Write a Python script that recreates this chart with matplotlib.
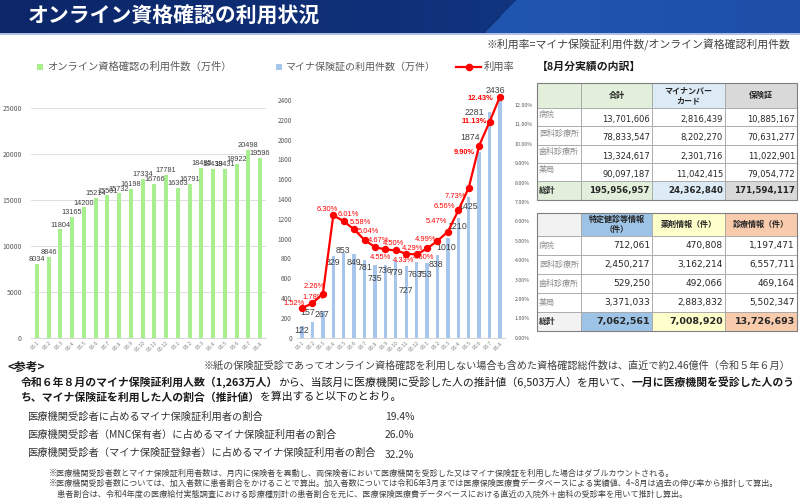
import numpy as np
import matplotlib
matplotlib.use('Agg')
import matplotlib.pyplot as plt
from matplotlib.patches import Rectangle
from matplotlib.ticker import FuncFormatter

plt.rcParams['font.family'] = ['Noto Sans CJK JP', 'DejaVu Sans']

# ---- data ----
months = ['R5.1', 'R5.2', 'R5.3', 'R5.4', 'R5.5', 'R5.6', 'R5.7', 'R5.8', 'R5.9', 'R5.10',
          'R5.11', 'R5.12', 'R6.1', 'R6.2', 'R6.3', 'R6.4', 'R6.5', 'R6.6', 'R6.7', 'R6.8']
online_counts = [8034, 8846, 11804, 13165, 14200, 15214, 15501, 15732, 16198, 17334,
                 16766, 17781, 16363, 16791, 18485, 18439, 18431, 18922, 20498, 19596]
myna_counts = [122, 157, 267, 829, 853, 849, 781, 735, 736, 779,
               727, 763, 753, 838, 1010, 1210, 1425, 1874, 2281, 2436]
usage_rate = [1.52, 1.78, 2.26, 6.30, 6.01, 5.58, 5.04, 4.67, 4.55, 4.50,
              4.33, 4.29, 4.60, 4.99, 5.47, 6.56, 7.73, 9.90, 11.13, 12.43]

t_rows = ['病院', '医科診療所', '歯科診療所', '薬局']
t1_cols = ['合計', 'マイナンバー\nカード', '保険証']
t1_total = [13701606, 78833547, 13324617, 90097187]
t1_card = [2816439, 8202270, 2301716, 11042415]
t1_hoken = [10885167, 70631277, 11022901, 79054772]
t1_sum = [195956957, 24362840, 171594117]

t2_cols = ['特定健診等情報\n（件）', '薬剤情報（件）', '診療情報（件）']
t2_kenshin = [712061, 2450217, 529250, 3371033]
t2_yakuzai = [470808, 3162214, 492066, 2883832]
t2_shinryo = [1197471, 6557711, 469164, 5502347]
t2_sum = [7062561, 7008920, 13726693]

ratio_labels = ['医療機関受診者に占めるマイナ保険証利用者の割合',
                '医療機関受診者（MNC保有者）に占めるマイナ保険証利用者の割合',
                '医療機関受診者（マイナ保険証登録者）に占めるマイナ保険証利用者の割合']
ratio_values = ['19.4%', '26.0%', '32.2%']

# label nudges in pixels (dx, dy), like the hand-moved labels on the slide
myna_lbl_off = [(0, -5), (-5, 10), (-1, -3), (0, -7), (-1, 3), (0, -9), (0, -7), (0, -14),
                (0, -6), (0, -12), (0, -25), (-2, -12), (-2, -11), (-2, -10), (-2, -10),
                (-1, -9), (-1, -10), (-9, 15), (-15, -1), (-5, 6)]
rate_lbl_off = [(-8, 5), (1, 6), (-9, 7), (-6, 6), (5, 7), (6, 7), (4, 8), (4, 7), (-5, -8),
                (-2, 6.5), (-3, -6.5), (-4, 5.5), (-4, -9), (-12, 1.5), (-11, 10), (-14, 4),
                (-13, -9), (-15, -7), (-15, 0), (-20, -2)]

GREEN = '#a8f08e'
BLUE = '#a6c6ec'
RED = '#ff0000'
GRAY_TXT = '#595959'
PX = 0.72  # points per pixel at dpi 100

fig = plt.figure(figsize=(8, 5), dpi=100)
ov = fig.add_axes([0, 0, 1, 1])
ov.set_xlim(0, 800)
ov.set_ylim(500, 0)
ov.axis('off')

# title banner
xx = np.linspace(0, 1, 800)[None, :]
yy = np.linspace(0, 1, 33)[:, None]
dark = np.array([12, 38, 104]) + (np.array([20, 60, 140]) - np.array([12, 38, 104])) * xx[..., None]
light = np.array([34, 92, 185]) + (np.array([30, 80, 170]) - np.array([34, 92, 185])) * xx[..., None]
edge = 485 + (1 - yy) * 30
mask = (np.arange(800)[None, :] > edge)[..., None]
img = np.where(mask, light, dark) / 255.0
ov.imshow(img, extent=(0, 800, 33, 0), aspect='auto', interpolation='bilinear', zorder=0)
ov.plot([0, 800], [33.8, 33.8], color='#9fb3dc', lw=1.2)
ov.text(28, 16, 'オンライン資格確認の利用状況', color='white', fontsize=15,
        fontweight='bold', va='center')
ov.text(790, 45, '※利用率=マイナ保険証利用件数/オンライン資格確認利用件数',
        ha='right', va='center', fontsize=7.8, color='#404040')

# legends
ov.add_patch(Rectangle((37, 64), 6, 6, color=GREEN, lw=0))
ov.text(47, 67, 'オンライン資格確認の利用件数（万件）', va='center', fontsize=7.4, color=GRAY_TXT)
ov.add_patch(Rectangle((276, 64), 6, 6, color=BLUE, lw=0))
ov.text(286, 67, 'マイナ保険証の利用件数（万件）', va='center', fontsize=7.2, color=GRAY_TXT)
ov.plot([456, 481], [67, 67], color=RED, lw=1.6)
ov.plot([468.5], [67], 'o', color=RED, ms=4.5)
ov.text(484, 67, '利用率', va='center', fontsize=7.4, color=GRAY_TXT)

x = np.arange(len(months))

# left chart: online confirmations
ax1 = fig.add_axes([31 / 800, 1 - 337.7 / 500, 235 / 800, (337.7 - 108.3) / 500])
ax1.bar(x, online_counts, width=0.36, color=GREEN, zorder=2)
ax1.set_xlim(-0.5, len(months) - 0.5)
ax1.set_ylim(0, 25000)
ax1.set_yticks(range(0, 25001, 5000))
ax1.yaxis.grid(True, color='#d9d9d9', lw=0.6, zorder=0)
ax1.set_axisbelow(True)
for s in ['top', 'right', 'left']:
    ax1.spines[s].set_visible(False)
ax1.spines['bottom'].set_color('#d9d9d9')
ax1.tick_params(axis='y', length=0, labelsize=5, labelcolor=GRAY_TXT, pad=6.5)
ax1.set_xticks(x)
ax1.set_xticklabels(months, rotation=45, ha='right', rotation_mode='anchor',
                    fontsize=3.6, color='#7f7f7f')
ax1.tick_params(axis='x', length=0, pad=2)
for i, v in enumerate(online_counts):
    ax1.annotate(str(v), (i, v), xytext=(0, 3), textcoords='offset points',
                 ha='center', va='center', fontsize=5.3, color='#404040',
                 family=['Liberation Sans', 'DejaVu Sans'])

# middle chart: My Number insurance card usage + rate
ax2 = fig.add_axes([296.8 / 800, 1 - 337.7 / 500, 208.4 / 800, 247.7 / 500])
ax2.bar(x, myna_counts, width=0.32, color=BLUE, zorder=2)
ax2.set_xlim(-0.5, len(months) - 0.5)
ax2.set_ylim(0, 2500)
ax2.set_yticks(range(0, 2401, 200))
for s in ['top', 'right', 'left']:
    ax2.spines[s].set_visible(False)
ax2.spines['bottom'].set_color('#d9d9d9')
ax2.tick_params(axis='y', length=0, labelsize=4.6, labelcolor=GRAY_TXT, pad=3.5)
ax2.set_xticks(x)
ax2.set_xticklabels(months, rotation=45, ha='right', rotation_mode='anchor',
                    fontsize=3.6, color='#7f7f7f')
ax2.tick_params(axis='x', length=0, pad=2)
for i, v in enumerate(myna_counts):
    dx, dy = myna_lbl_off[i]
    ax2.annotate(str(v), (i, v), xytext=(dx * PX, dy * PX), textcoords='offset points',
                 ha='center', va='center', fontsize=6.3, color='#404040',
                 family=['Liberation Sans', 'DejaVu Sans'], zorder=3)

ax3 = ax2.twinx()
rates = np.array(usage_rate) / 100
ax3.plot(x, rates, color=RED, lw=1.6, marker='o', ms=4.3, zorder=4)
ax3.set_ylim(0, 0.1277)
ax3.set_yticks(np.arange(0, 0.1201, 0.01))
ax3.yaxis.set_major_formatter(FuncFormatter(lambda v, p: f'{v * 100:.2f}%'))
for s in ['top', 'right', 'left', 'bottom']:
    ax3.spines[s].set_visible(False)
ax3.tick_params(axis='y', length=0, labelsize=3.8, labelcolor=GRAY_TXT, pad=7)
for i, v in enumerate(rates):
    dx, dy = rate_lbl_off[i]
    ax3.annotate(f'{usage_rate[i]:.2f}%', (i, v), xytext=(dx * PX, dy * PX),
                 textcoords='offset points', ha='center', va='center', fontsize=5.4,
                 color=RED, family=['Liberation Sans', 'DejaVu Sans'],
                 fontweight='bold' if i >= 17 else 'normal')


# tables
def fmt(n):
    return f'{n:,}'


def draw_table(x_edges, y_top, head_h, row_h, heads, head_fills, cols, sums, sum_fills,
               num_fs, sum_fs, num_va_shift):
    border = '#a6a6a6'
    y = y_top
    for j in range(4):
        ov.add_patch(Rectangle((x_edges[j], y), x_edges[j + 1] - x_edges[j], head_h,
                               facecolor=head_fills[j], edgecolor=border, lw=0.6))
        if j > 0:
            ov.text((x_edges[j] + x_edges[j + 1]) / 2, y + head_h / 2, heads[j - 1],
                    ha='center', va='center', fontsize=5.8, fontweight='bold',
                    color='#262626', linespacing=1.1)
    y += head_h
    for r, name in enumerate(t_rows):
        for j in range(4):
            ov.add_patch(Rectangle((x_edges[j], y), x_edges[j + 1] - x_edges[j], row_h,
                                   facecolor='white', edgecolor=border, lw=0.6))
        ov.text(x_edges[0] + 2, y + row_h / 2 - num_va_shift, name, ha='left', va='center',
                fontsize=5.8, color='#8c8c8c')
        for j in range(3):
            ov.text(x_edges[j + 2] - 2, y + row_h / 2 + num_va_shift, fmt(cols[j][r]),
                    ha='right', va='center', fontsize=num_fs, color='#262626',
                    family=['DejaVu Sans'])
        y += row_h
    for j in range(4):
        ov.add_patch(Rectangle((x_edges[j], y), x_edges[j + 1] - x_edges[j], row_h,
                               facecolor=sum_fills[j], edgecolor=border, lw=0.6))
    ov.text(x_edges[0] + 2, y + row_h / 2, '総計', ha='left', va='center',
            fontsize=6, fontweight='bold', color='#262626')
    for j in range(3):
        ov.text(x_edges[j + 2] - 2, y + row_h / 2, fmt(sums[j]), ha='right', va='center',
                fontsize=sum_fs, fontweight='bold', color='#262626', family=['DejaVu Sans'])
    y += row_h
    ov.add_patch(Rectangle((x_edges[0], y_top), x_edges[-1] - x_edges[0], y - y_top,
                           facecolor='none', edgecolor='#7f7f7f', lw=0.8))


ov.text(537, 67, '【8月分実績の内訳】', ha='left', va='center', fontsize=7.8,
        fontweight='bold', color='#1a1a1a')
xe = [537, 581, 652, 725, 797]
draw_table(xe, 83, 25, 18.3, t1_cols, ['#e2efda', '#e2efda', '#ddebf7', '#d9d9d9'],
           [t1_total, t1_card, t1_hoken], t1_sum,
           ['#e2efda', '#e2efda', '#ddebf7', '#d9d9d9'], 6.0, 6.2, 2.5)
draw_table(xe, 213, 23, 19, t2_cols, ['#f2f2f2', '#9dc3e6', '#ffffcc', '#f8cbad'],
           [t2_kenshin, t2_yakuzai, t2_shinryo], t2_sum,
           ['#f2f2f2', '#9dc3e6', '#ffffcc', '#f8cbad'], 6.5, 6.8, 0)


# bottom notes
def rich_line(x0, y0, parts, fs, color='#1a1a1a'):
    prev = ov.text(x0, y0, parts[0][0], fontsize=fs, va='center', ha='left', color=color,
                   fontweight='bold' if parts[0][1] else 'normal')
    for s, b in parts[1:]:
        prev = ov.annotate(s, xy=(1, 0.5), xycoords=prev, va='center', ha='left',
                           fontsize=fs, color=color, fontweight='bold' if b else 'normal')


ov.text(7, 367, '<参考>', fontsize=8.5, fontweight='bold', va='center', color='#1a1a1a')
ov.text(204, 366, '※紙の保険証受診であってオンライン資格確認を利用しない場合も含めた資格確認総件数は、'
        '直近で約2.46億件（令和５年６月）', fontsize=7.3, va='center', color='#404040')
rich_line(21, 382, [('令和６年８月のマイナ保険証利用人数（1,263万人）', True),
                    ('から、当該月に医療機関に受診した人の推計値（6,503万人）を用いて、', False),
                    ('一月に医療機関を受診した人のう', True)], 7.8)
rich_line(21, 397, [('ち、マイナ保険証を利用した人の割合（推計値）', True),
                    ('を算出すると以下のとおり。', False)], 7.8)
for k, (lab, val) in enumerate(zip(ratio_labels, ratio_values)):
    yk = 417 + k * 18
    ov.text(27, yk, lab, fontsize=7.4, va='center', color='#333333')
    ov.text(385, yk + (2 if k == 2 else 0), val, fontsize=7.4, va='center', color='#333333')

foot = ['※医療機関受診者数とマイナ保険証利用者数は、月内に保険者を異動し、両保険者において医療機関を受診した又は'
        'マイナ保険証を利用した場合はダブルカウントされる。',
        '※医療機関受診者数については、加入者数に患者割合をかけることで算出。加入者数については令和6年3月までは'
        '医療保険医療費データベースによる実績値、4~8月は過去の伸び率から推計して算出。',
        '\u3000患者割合は、令和4年度の医療給付実態調査における診療種別計の患者割合を元に、'
        '医療保険医療費データベースにおける直近の入院外＋歯科の受診率を用いて推計し算出。']
for k, t in enumerate(foot):
    ov.text(49, 473 + k * 10.5, t, fontsize=5.85, va='center', color='#404040')

fig.savefig('out.png', dpi=100)
